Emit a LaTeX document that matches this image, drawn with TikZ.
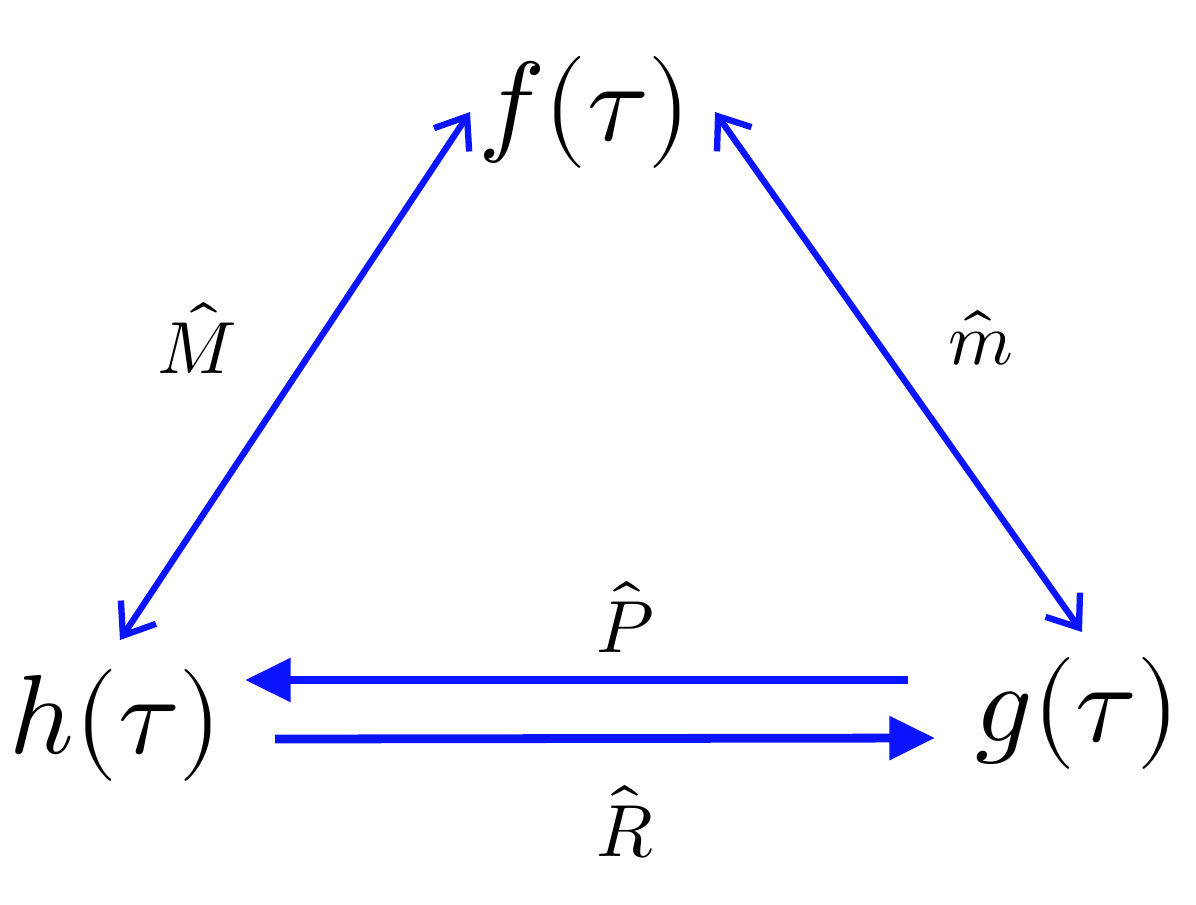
\documentclass[tikz,border=0pt]{standalone}
\usepackage{fontspec}
\usepackage{unicode-math}
\setmathfont{Latin Modern Math}
\usetikzlibrary{arrows.meta,calc}
\definecolor{arrowblue}{RGB}{10,20,255}
\tikzset{
  term/.style={inner sep=0pt, font=\fontsize{64}{70}\selectfont},
  lbl/.style={inner sep=0pt, font=\fontsize{42}{50}\selectfont},
  diag/.style={draw=arrowblue, line width=3.6pt, {Straight Barb[length=16pt,width=24pt]}-{Straight Barb[length=16pt,width=24pt]}},
  horiz/.style={draw=arrowblue, line width=5pt, -{Triangle[length=26pt,width=24pt]}}
}
\begin{document}
\begin{tikzpicture}[x=0.02cm,y=-0.02cm]
\useasboundingbox (0,0) rectangle (1196,904);
\node[term] (f) at (585,112) {$f(\tau)$};
\node[term] (h) at (116,725) {$h(\tau)$};
\node[term] (g) at (1078,713) {$g(\tau)$};
\node[lbl] (M) at (197,338) {$\hat{M}$};
\node[lbl] (m) at (981,338) {$\hat{m}$};
\node[lbl] (P) at (625,617) {$\hat{P}$};
\node[lbl] (R) at (625,822) {$\hat{R}$};
\draw[diag] ($(h)+(4,-85)$) -- ($(f)+(-115,0)$);
\draw[diag] ($(f)+(130,0)$) -- ($(g)+(4,-81)$);
\draw[horiz] ($(g)+(-170,-33)$) -- ($(h)+(129,-45)$);
\draw[horiz] ($(h)+(159,14)$) -- ($(g)+(-143,25)$);
\end{tikzpicture}
\end{document}
